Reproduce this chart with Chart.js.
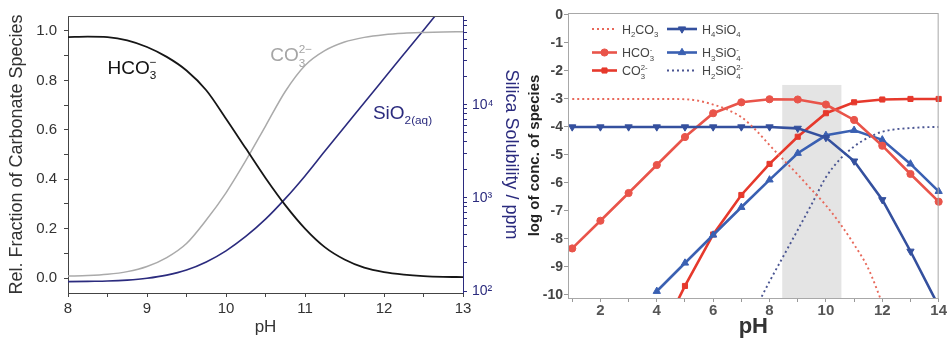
<!DOCTYPE html>
<html>
<head>
<meta charset="utf-8">
<script src="https://cdn.jsdelivr.net/npm/chart.js"></script>
<style>
  html, body { margin: 0; padding: 0; background: #fff; }
  #wrap { position: relative; width: 947px; height: 338px; overflow: hidden; }
  #carbonate { position: absolute; left: 0; top: 0; }
  #species { position: absolute; left: 525px; top: 0; }
</style>
</head>
<body>
<div id="wrap">
  <canvas id="carbonate" width="525" height="338"></canvas>
  <canvas id="species" width="422" height="338"></canvas>
</div>
<script>
const FONT = '"Liberation Sans", Arial, Helvetica, sans-serif';

// ---- left panel: carbonate fractions + silica solubility ----
const phA = [8, 8.25, 8.5, 8.75, 9, 9.25, 9.5, 9.75, 10, 10.25, 10.5,
             10.75, 11, 11.25, 11.5, 11.75, 12, 12.25, 12.5, 12.75, 13];
const fracHCO3 = [0.975, 0.977, 0.975, 0.962, 0.935, 0.895, 0.84, 0.76, 0.645, 0.525, 0.405,
                  0.295, 0.2, 0.125, 0.075, 0.042, 0.024, 0.014, 0.008, 0.005, 0.004];
const fracCO3 = [0.008, 0.01, 0.015, 0.026, 0.047, 0.083, 0.14, 0.235, 0.345, 0.475, 0.615,
                 0.755, 0.86, 0.92, 0.955, 0.974, 0.985, 0.991, 0.994, 0.996, 0.997];
const silicaPpm = [126, 127, 128, 131, 137, 148, 168, 205, 270, 385, 590,
                   980, 1720, 3160, 5750, 10500, 19100, 34700, 63100, 115000, 209000];

const phTicksA = [8, 8.5, 9, 9.5, 10, 10.5, 11, 11.5, 12, 12.5, 13];
const phLabelsA = ['8', '', '9', '', '10', '', '11', '', '12', '', '13'];
const fracTicks = [0, 0.1, 0.2, 0.3, 0.4, 0.5, 0.6, 0.7, 0.8, 0.9, 1.0];
const fracLabels = ['0.0', '', '0.2', '', '0.4', '', '0.6', '', '0.8', '', '1.0'];
const ppmTicks = [100, 200, 300, 400, 500, 600, 700, 800, 900,
                  1000, 2000, 3000, 4000, 5000, 6000, 7000, 8000, 9000,
                  10000, 20000, 30000, 40000, 50000, 60000, 70000, 80000];
const ppmLabels = { 100: '10²', 1000: '10³', 10000: '10⁴' };

// ---- right panel: log concentration of species ----
const phInt = [1, 2, 3, 4, 5, 6, 7, 8, 9, 10, 11, 12, 13, 14];
const logH4SiO4 = [-4, -4, -4, -4, -4, -4, -4, -4, -4.05, -4.38, -5.22, -6.6, -8.44, -10.4];
const logHCO3 = [-8.34, -7.35, -6.36, -5.36, -4.36, -3.51, -3.12, -3.01, -3.02, -3.2, -3.75, -4.67, -5.68, -6.67];
const phFrom4 = [4, 5, 6, 7, 8, 9, 10, 11, 12, 13, 14];
const logH3SiO4 = [-9.87, -8.86, -7.86, -6.87, -5.89, -4.94, -4.3, -4.12, -4.46, -5.32, -6.3];
const logCO3 = [-11.7, -9.68, -7.84, -6.43, -5.32, -4.35, -3.51, -3.12, -3.02, -3.0, -3.0];
const phH2CO3 = [1, 2, 3, 4, 5, 5.5, 6, 6.5, 7, 7.5, 8, 8.5, 9, 9.5, 10, 10.5, 11, 11.5, 12];
const logH2CO3 = [-3, -3, -3, -3, -3.01, -3.07, -3.2, -3.38, -3.65, -4.1, -4.65, -5.18, -5.7, -6.25, -6.8, -7.45, -8.2, -9.05, -10.3];
const phH2SiO4 = [7, 7.5, 8, 8.5, 9, 9.5, 10, 10.5, 11, 11.5, 12, 12.5, 13, 13.5, 14];
const logH2SiO4 = [-11.5, -10.5, -9.52, -8.6, -7.68, -6.75, -5.8, -5.15, -4.7, -4.38, -4.17, -4.08, -4.04, -4.01, -4.0];

const phTicksB = [1, 2, 3, 4, 5, 6, 7, 8, 9, 10, 11, 12, 13, 14];
const phLabelsB = ['', '2', '', '4', '', '6', '', '8', '', '10', '', '12', '', '14'];
const logTicks = [0, -1, -2, -3, -4, -5, -6, -7, -8, -9, -10];
const logLabels = ['0', '-1', '-2', '-3', '-4', '-5', '-6', '-7', '-8', '-9', '-10'];

// shaded pH window
const bandPh = [8.45, 10.55];
const bandTop = -2.5;

const pts = (xs, ys) => xs.map((x, i) => ({ x: x, y: ys[i] }));
const setTicks = list => scale => { scale.ticks = list.map(v => ({ value: v })); };

// text with chemical sub/superscripts: 'HCO_{3}^{-}' ; adjacent sub+sup stack
function drawFormula(ctx, markup, x, y, o) {
  const parts = [];
  const re = /([_^])\{([^}]*)\}|([^_^]+)/g;
  let m;
  while ((m = re.exec(markup)) !== null) {
    parts.push(m[3] !== undefined ? { t: m[3], k: 'n' } : { t: m[2], k: m[1] });
  }
  const weight = o.weight || 'normal';
  const small = o.size * 0.62;
  ctx.save();
  ctx.fillStyle = o.color;
  ctx.textAlign = 'left';
  ctx.textBaseline = 'alphabetic';
  let cx = x, stackX = null, stackW = 0, prev = null;
  parts.forEach(p => {
    if (p.k === 'n') {
      ctx.font = weight + ' ' + o.size + 'px ' + FONT;
      ctx.fillText(p.t, cx, y);
      cx += ctx.measureText(p.t).width;
      stackX = null;
      prev = 'n';
      return;
    }
    ctx.font = weight + ' ' + small + 'px ' + FONT;
    const w = ctx.measureText(p.t).width;
    const stacked = stackX !== null && prev !== p.k;
    const sx = stacked ? stackX : cx;
    const dy = p.k === '_' ? o.size * 0.3 : -o.size * 0.42;
    ctx.fillText(p.t, sx, y + dy);
    if (stacked) { cx = sx + Math.max(stackW, w); stackX = null; }
    else { stackX = cx; stackW = w; cx += w; }
    prev = p.k;
  });
  ctx.restore();
}

// ================= left chart =================
const NAVY = '#2b2b7e';

const carbonLabels = {
  id: 'carbonLabels',
  afterDatasetsDraw(chart) {
    const { ctx, scales } = chart;
    const items = [
      { text: 'HCO_{3}^{−}', ph: 8.5, at: 0.827, color: '#111' },
      { text: 'CO_{3}^{2−}', ph: 10.56, at: 0.879, color: '#a5a5a5' },
      { text: 'SiO_{2(aq)}', ph: 11.86, at: 0.645, color: NAVY }
    ];
    items.forEach(it => {
      drawFormula(ctx, it.text, scales.x.getPixelForValue(it.ph), scales.y.getPixelForValue(it.at),
        { size: 19, color: it.color });
    });
  },
  afterDraw(chart) {
    const { ctx, chartArea: a } = chart;
    ctx.save();
    ctx.strokeStyle = '#555';
    ctx.lineWidth = 1;
    ctx.beginPath();
    ctx.moveTo(a.left, a.top + 0.5);
    ctx.lineTo(a.right, a.top + 0.5);
    ctx.stroke();
    ctx.restore();
  }
};

new Chart(document.getElementById('carbonate'), {
  type: 'line',
  data: {
    datasets: [
      { label: 'HCO3-', data: pts(phA, fracHCO3), borderColor: '#161616', borderWidth: 1.8, yAxisID: 'y' },
      { label: 'CO3 2-', data: pts(phA, fracCO3), borderColor: '#aaaaaa', borderWidth: 1.5, yAxisID: 'y' },
      { label: 'SiO2(aq)', data: pts(phA, silicaPpm), borderColor: NAVY, borderWidth: 1.6, yAxisID: 'y2' }
    ]
  },
  options: {
    responsive: false,
    animation: false,
    layout: { padding: { top: 15, left: 0, right: 0, bottom: 0 } },
    elements: {
      point: { radius: 0 },
      line: { cubicInterpolationMode: 'monotone', fill: false }
    },
    plugins: { legend: { display: false }, tooltip: { enabled: false } },
    scales: {
      x: {
        type: 'linear', min: 8, max: 13,
        afterBuildTicks: setTicks(phTicksA),
        afterFit: s => { s.height = 45; },
        ticks: {
          callback: (v, i) => phLabelsA[i], autoSkip: false, maxRotation: 0,
          padding: 3, color: '#333', font: { family: FONT, size: 15 }
        },
        grid: { drawOnChartArea: false, tickLength: 4, color: '#444' },
        border: { color: '#444' },
        title: { display: true, text: 'pH', color: '#333', padding: { top: 0, bottom: 0 },
                 font: { family: FONT, size: 17 } }
      },
      y: {
        type: 'linear', position: 'left', min: -0.0605, max: 1.0605,
        afterBuildTicks: setTicks(fracTicks),
        afterFit: s => { s.width = 68; },
        ticks: {
          callback: (v, i) => fracLabels[i], autoSkip: false,
          padding: 7, color: '#333', font: { family: FONT, size: 15 }
        },
        grid: { drawOnChartArea: false, tickLength: 4, color: '#444' },
        border: { color: '#444' },
        title: { display: true, text: 'Rel. Fraction of Carbonate Species', color: '#333',
                 padding: { top: 6, bottom: 0 }, font: { family: FONT, size: 18 } }
      },
      y2: {
        type: 'logarithmic', position: 'right', min: 95.2, max: 89500,
        afterBuildTicks: setTicks(ppmTicks),
        afterFit: s => { s.width = 62; },
        ticks: {
          callback: v => ppmLabels[v] || '', autoSkip: false,
          padding: 5, color: NAVY, font: { family: FONT, size: 14 }
        },
        grid: { drawOnChartArea: false, tickLength: 4, color: NAVY },
        border: { color: NAVY },
        title: { display: true, text: 'Silica Solubility / ppm', color: NAVY,
                 padding: { top: 3.5, bottom: 0 }, font: { family: FONT, size: 18 } }
      }
    }
  },
  plugins: [carbonLabels]
});

// ================= right chart =================
const RED_A = '#e9544a';
const RED_B = '#e6392c';
const BLUE_A = '#34509e';
const BLUE_B = '#3a60b2';

const speciesDecor = {
  id: 'speciesDecor',
  beforeDatasetsDraw(chart) {
    const { ctx, chartArea: a, scales } = chart;
    const x0 = scales.x.getPixelForValue(bandPh[0]);
    const x1 = scales.x.getPixelForValue(bandPh[1]);
    const y0 = scales.y.getPixelForValue(bandTop);
    ctx.save();
    ctx.fillStyle = '#e4e4e4';
    ctx.fillRect(x0, y0, x1 - x0, a.bottom - y0);
    ctx.restore();
  },
  afterDatasetsDraw(chart) {
    const { ctx, chartArea: a } = chart;
    // two-column legend in the upper left corner
    const colX = [24, 99], colLen = [25, 30], rowY = [16, 39.5, 57.5];
    chart.data.datasets.forEach((ds, i) => {
      const c = i % 2, r = Math.floor(i / 2);
      const x0 = a.left + colX[c], x1 = x0 + colLen[c], yy = a.top + rowY[r];
      ctx.save();
      ctx.strokeStyle = ds.borderColor;
      ctx.lineWidth = ds.borderWidth;
      ctx.setLineDash(ds.borderDash || []);
      ctx.beginPath();
      ctx.moveTo(x0, yy);
      ctx.lineTo(x1, yy);
      ctx.stroke();
      ctx.setLineDash([]);
      if (ds.pointRadius > 0 && Chart.helpers && Chart.helpers.drawPoint) {
        ctx.fillStyle = ds.borderColor;
        ctx.strokeStyle = ds.borderColor;
        ctx.lineWidth = 1;
        Chart.helpers.drawPoint(ctx, {
          pointStyle: ds.pointStyle, radius: ds.pointRadius,
          rotation: ds.pointRotation || 0, borderWidth: 1
        }, (x0 + x1) / 2, yy);
      }
      ctx.restore();
      drawFormula(ctx, ds.label, x1 + 5, yy + 4.5, { size: 12.5, color: '#444' });
    });
  },
  afterDraw(chart) {
    const { ctx, chartArea: a } = chart;
    ctx.save();
    ctx.strokeStyle = '#a8a8a8';
    ctx.lineWidth = 1;
    ctx.strokeRect(a.left + 0.5, a.top + 0.5, a.right - a.left - 1, a.bottom - a.top);
    ctx.restore();
  }
};

const marked = (color, style, rot) => ({
  borderColor: color, backgroundColor: color, borderWidth: 2.6,
  pointStyle: style, pointRotation: rot || 0, pointRadius: style === 'triangle' ? 4.2 : 3.6,
  pointBackgroundColor: color, pointBorderColor: color, pointBorderWidth: 1,
  tension: 0, clip: { left: 5, right: 8, top: 0, bottom: 0 }
});
const dotted = color => ({
  borderColor: color, borderWidth: 1.9, borderDash: [2, 3], pointRadius: 0,
  cubicInterpolationMode: 'monotone', clip: { left: 0, right: 0, top: 0, bottom: 0 }
});

new Chart(document.getElementById('species'), {
  type: 'line',
  data: {
    datasets: [
      Object.assign({ label: 'H_{2}CO_{3}', data: pts(phH2CO3, logH2CO3) }, dotted('#e8685a')),
      Object.assign({ label: 'H_{4}SiO_{4}', data: pts(phInt, logH4SiO4) }, marked(BLUE_A, 'triangle', 180)),
      Object.assign({ label: 'HCO_{3}^{-}', data: pts(phInt, logHCO3) }, marked(RED_A, 'circle')),
      Object.assign({ label: 'H_{3}SiO_{4}^{-}', data: pts(phFrom4, logH3SiO4) }, marked(BLUE_B, 'triangle')),
      Object.assign({ label: 'CO_{3}^{2-}', data: pts(phFrom4, logCO3) }, marked(RED_B, 'rect')),
      Object.assign({ label: 'H_{2}SiO_{4}^{2-}', data: pts(phH2SiO4, logH2SiO4) }, dotted('#4a5592'))
    ]
  },
  options: {
    responsive: false,
    animation: false,
    layout: { padding: { top: 13, left: 0, right: 6, bottom: 0 } },
    plugins: { legend: { display: false }, tooltip: { enabled: false } },
    scales: {
      x: {
        type: 'linear', min: 0.85, max: 14,
        afterBuildTicks: setTicks(phTicksB),
        afterFit: s => { s.height = 40; },
        ticks: {
          callback: (v, i) => phLabelsB[i], autoSkip: false, maxRotation: 0,
          padding: 0, color: '#555', font: { family: FONT, size: 15, weight: 'bold' }
        },
        grid: { drawOnChartArea: false, tickLength: 4, color: '#999' },
        border: { color: '#a8a8a8' },
        title: { display: true, text: 'pH', color: '#333', padding: { top: 0, bottom: 0 },
                 font: { family: FONT, size: 22, weight: 'bold', lineHeight: 1 } }
      },
      y: {
        type: 'linear', min: -10.11, max: 0.07,
        afterBuildTicks: setTicks(logTicks),
        afterFit: s => { s.width = 43; },
        ticks: {
          callback: (v, i) => logLabels[i], autoSkip: false,
          padding: 1, color: '#444', font: { family: FONT, size: 14, weight: 'bold' }
        },
        grid: { drawOnChartArea: false, tickLength: 4, color: '#999' },
        border: { color: '#a8a8a8' },
        title: { display: true, text: 'log of conc. of species', color: '#222',
                 padding: { top: 1, bottom: 0 }, font: { family: FONT, size: 15, weight: 'bold' } }
      }
    }
  },
  plugins: [speciesDecor]
});
</script>
</body>
</html>
